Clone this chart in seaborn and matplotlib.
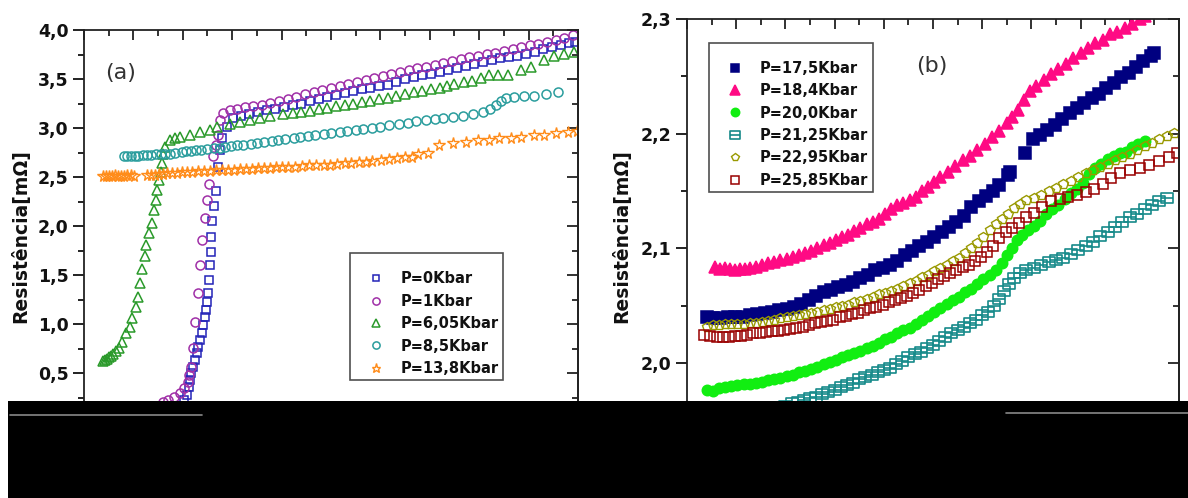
import matplotlib
matplotlib.use("Agg")
import matplotlib.pyplot as plt
import seaborn as sns
from matplotlib.ticker import MultipleLocator, FuncFormatter
from matplotlib.path import Path
from matplotlib.patches import Rectangle
from matplotlib.lines import Line2D

# ---- panel (a): resistance vs temperature, low pressures ----
T_P0 = [36, 38, 40, 40.6, 41.8, 42.6, 43.0, 43.4, 44.2, 45.0, 45.8, 46.2, 47.1, 47.9, 48.3, 49.1, 49.5, 49.9,
        50.3, 50.7, 51.1, 51.3, 51.5, 52.0, 52.7, 53.5, 54.4, 55.2, 56.0, 58.0, 60.4, 63.5, 67, 70.5, 74, 77.5,
        81, 84.5, 88, 91.5, 95, 98.5, 102, 105.5, 109, 112.5, 116, 119.5, 123, 126.5, 130, 133.5, 137, 140.5,
        144, 147.5, 151, 154.5, 158, 161.5, 165, 168.5, 172, 175.5, 179, 182.5, 186, 189.5, 193, 196.5, 199]
R_P0 = [0.05, 0.09, 0.16, 0.22, 0.28, 0.36, 0.43, 0.50, 0.56, 0.63, 0.70, 0.77, 0.84, 0.91, 0.99, 1.07, 1.14, 1.22,
        1.32, 1.45, 1.60, 1.73, 1.89, 2.05, 2.20, 2.36, 2.60, 2.78, 2.90, 3.01, 3.10, 3.12, 3.14, 3.16, 3.18, 3.19,
        3.21, 3.23, 3.25, 3.28, 3.30, 3.32, 3.34, 3.36, 3.38, 3.40, 3.41, 3.43, 3.44, 3.47, 3.50, 3.52, 3.54, 3.55,
        3.57, 3.59, 3.61, 3.63, 3.65, 3.67, 3.69, 3.71, 3.72, 3.74, 3.76, 3.78, 3.81, 3.83, 3.85, 3.87, 3.88]

T_P1 = [26, 29, 32.0, 34.1, 36.5, 38.9, 40.6, 42.2, 42.6, 43.4, 44.2, 45.0, 46.2, 47.1, 47.9, 49.1, 49.9, 50.7,
        52.3, 53.5, 54.4, 55.2, 56.4, 59.2, 62, 65, 68.5, 72, 75.5, 79, 82.5, 86, 89.5, 93, 96.5, 100, 103.5, 107,
        110.5, 114, 117.5, 121, 124.5, 128, 131.5, 135, 138.5, 142, 145.5, 149, 152.5, 156, 159.5, 163, 166.5, 170,
        173.5, 177, 180.5, 184, 187.5, 191, 194.5, 198]
R_P1 = [0.12, 0.16, 0.20, 0.22, 0.26, 0.30, 0.35, 0.41, 0.48, 0.56, 0.76, 1.02, 1.32, 1.60, 1.86, 2.08, 2.27, 2.43,
        2.71, 2.83, 2.93, 3.08, 3.15, 3.18, 3.19, 3.21, 3.22, 3.24, 3.26, 3.28, 3.30, 3.32, 3.35, 3.37, 3.39, 3.41,
        3.43, 3.45, 3.47, 3.49, 3.51, 3.53, 3.55, 3.57, 3.59, 3.61, 3.62, 3.64, 3.66, 3.68, 3.70, 3.72, 3.74, 3.76,
        3.77, 3.79, 3.81, 3.83, 3.85, 3.86, 3.88, 3.90, 3.92, 3.95]

T_P605 = [7.7, 8.5, 9.3, 10.1, 11.0, 11.8, 13.0, 14.2, 15.4, 17.0, 18.7, 19.5, 21.1, 21.9, 22.7, 23.5, 24.7, 25.2,
          26.4, 27.6, 28.4, 29.2, 29.6, 30.4, 31.2, 31.6, 32.0, 32.9, 34.9, 36.9, 38.9, 43.0, 47.1, 51.1, 54.0, 59.2,
          63.3, 67.3, 71.4, 75.5, 80.7, 84.5, 88, 91.5, 95, 98.5, 102, 105.5, 109, 112.5, 116, 119.5, 123, 126.5,
          130, 133.5, 137, 140.5, 144, 147, 150, 154, 157, 160.6, 164, 167.5, 171.6, 176.9, 180.9, 186.2, 190.3,
          194.3, 198.4]
R_P605 = [0.62, 0.63, 0.64, 0.66, 0.67, 0.69, 0.72, 0.76, 0.82, 0.91, 0.97, 1.06, 1.17, 1.28, 1.42, 1.56, 1.69, 1.81,
          1.93, 2.03, 2.16, 2.27, 2.37, 2.47, 2.55, 2.64, 2.74, 2.81, 2.88, 2.90, 2.91, 2.93, 2.96, 2.98, 3.01, 3.04,
          3.06, 3.08, 3.10, 3.12, 3.14, 3.15, 3.16, 3.17, 3.19, 3.20, 3.22, 3.23, 3.25, 3.27, 3.28, 3.30, 3.31, 3.33,
          3.35, 3.37, 3.38, 3.40, 3.41, 3.43, 3.45, 3.47, 3.48, 3.51, 3.54, 3.54, 3.54, 3.59, 3.62, 3.69, 3.74,
          3.76, 3.78]

T_P85 = [16, 17.5, 19, 20.5, 22, 24, 25.5, 27, 29, 31, 33, 35, 37, 39.5, 41.5, 43.5, 45.5, 47.5, 50, 52.5, 55, 57,
         59.5, 62, 64.5, 67.5, 70, 73, 76, 78.5, 81.5, 85, 87.5, 90.5, 93.5, 97, 100, 103.5, 106.5, 110, 113, 116.5,
         120, 123.5, 127.5, 131, 134.5, 138.5, 142, 145.5, 149.5, 153.5, 157.5, 161.5, 164.5, 167, 169, 171, 174,
         178, 182, 187, 192]
R_P85 = [2.71, 2.71, 2.71, 2.71, 2.71, 2.72, 2.72, 2.72, 2.73, 2.73, 2.74, 2.74, 2.75, 2.76, 2.77, 2.77, 2.78, 2.78,
         2.79, 2.80, 2.80, 2.81, 2.82, 2.83, 2.83, 2.84, 2.85, 2.86, 2.87, 2.88, 2.89, 2.90, 2.91, 2.92, 2.93, 2.94,
         2.95, 2.96, 2.97, 2.98, 2.99, 3.00, 3.01, 3.03, 3.04, 3.05, 3.07, 3.08, 3.09, 3.10, 3.11, 3.12, 3.14, 3.16,
         3.19, 3.24, 3.28, 3.31, 3.32, 3.33, 3.33, 3.35, 3.37]

T_P138 = [7.7, 8.9, 10.1, 11.4, 12.6, 13.8, 15.0, 16.2, 17.4, 19.1, 20.3, 25.6, 27.2, 28.8, 30.4, 32.0, 33.7, 35.7,
          37.7, 39.8, 41.8, 43.8, 46.2, 48.7, 51.1, 53.5, 56.0, 58.4, 60.8, 63.3, 65.7, 68.2, 70.6, 73.0, 75.5, 77.9,
          80.3, 82.8, 85.6, 88.4, 91.3, 94.1, 97.0, 99.8, 102.6, 105.5, 108.3, 111.2, 114.0, 116.8, 120.1, 123.3,
          126.6, 129.8, 132.7, 135.1, 139.1, 143.6, 149.3, 154.6, 159.4, 163.9, 168.0, 172.8, 176.9, 182.2, 186.2,
          191.1, 195.9, 199.5]
R_P138 = [2.51, 2.51, 2.51, 2.51, 2.52, 2.51, 2.51, 2.51, 2.52, 2.52, 2.51, 2.52, 2.52, 2.52, 2.53, 2.53, 2.54, 2.54,
          2.54, 2.55, 2.55, 2.55, 2.56, 2.56, 2.56, 2.57, 2.57, 2.57, 2.57, 2.58, 2.58, 2.58, 2.59, 2.59, 2.59, 2.60,
          2.60, 2.60, 2.60, 2.61, 2.62, 2.62, 2.62, 2.62, 2.63, 2.64, 2.64, 2.65, 2.65, 2.66, 2.67, 2.68, 2.69, 2.70,
          2.70, 2.74, 2.75, 2.83, 2.85, 2.86, 2.88, 2.88, 2.90, 2.90, 2.91, 2.93, 2.93, 2.95, 2.96, 2.97]

# ---- panel (b): higher pressures ----
T_P175 = [8, 10.5, 13.5, 16.5, 19.5, 22.5, 25.5, 28.5, 31.5, 34.5, 37.5, 40.5, 43.5, 46.5, 49.5, 52.5, 55.5, 58.5,
          61.5, 64.5, 67.5, 70.5, 73.5, 76.5, 79.5, 82.5, 85.5, 88.5, 91.5, 94.5, 97.5, 100.5, 103.5, 106.5, 109.5,
          112.5, 115.5, 118.5, 121.5, 124.5, 127, 130.5, 131.5, 137.5, 140.5, 143.5, 146.5, 149.5, 152.5, 155.5,
          158.5, 161.5, 164.5, 167.5, 170.5, 173.5, 176.5, 179.5, 182.5, 185.5, 188.5, 190]
R_P175 = [2.040, 2.039, 2.039, 2.040, 2.040, 2.040, 2.042, 2.043, 2.044, 2.045, 2.046, 2.047, 2.049, 2.052, 2.055,
          2.059, 2.062, 2.064, 2.066, 2.068, 2.071, 2.074, 2.077, 2.081, 2.083, 2.086, 2.089, 2.094, 2.098, 2.102,
          2.106, 2.110, 2.114, 2.119, 2.123, 2.128, 2.136, 2.141, 2.146, 2.150, 2.155, 2.164, 2.167, 2.183, 2.195,
          2.199, 2.203, 2.208, 2.213, 2.218, 2.222, 2.227, 2.231, 2.235, 2.240, 2.244, 2.249, 2.253, 2.258, 2.263,
          2.268, 2.270]

T_P184 = [11.5, 13.5, 15.5, 17.5, 19.5, 21.5, 23.5, 25.5, 28, 30.5, 33, 35.5, 38, 40.5, 43, 45.5, 48, 50.5, 53, 55.5,
          58, 60.5, 63, 65.5, 68, 70.5, 73, 75.5, 78, 80.5, 83, 85.5, 88, 90.5, 93, 95.5, 98, 100.5, 103, 106, 109,
          112, 115, 118, 121, 124, 127, 130, 132, 134.5, 137, 139.5, 142, 145, 148, 151, 154, 157, 160, 163, 166,
          169, 172, 175, 178, 181, 184, 186]
R_P184 = [2.084, 2.082, 2.083, 2.082, 2.081, 2.082, 2.082, 2.083, 2.084, 2.086, 2.087, 2.088, 2.090, 2.091, 2.093,
          2.094, 2.096, 2.098, 2.100, 2.103, 2.105, 2.107, 2.110, 2.112, 2.115, 2.118, 2.121, 2.123, 2.126, 2.130,
          2.134, 2.138, 2.140, 2.142, 2.145, 2.150, 2.154, 2.158, 2.162, 2.167, 2.172, 2.177, 2.181, 2.186, 2.191,
          2.197, 2.202, 2.209, 2.215, 2.221, 2.229, 2.237, 2.242, 2.247, 2.252, 2.256, 2.261, 2.266, 2.270, 2.275,
          2.279, 2.282, 2.287, 2.289, 2.292, 2.296, 2.300, 2.303]

T_P200 = [8, 10.5, 13, 15.5, 18, 20.5, 23, 25.5, 28, 30.5, 33, 35.5, 38, 40.5, 43, 45.5, 48, 50.5, 53, 55.5, 58, 60.5,
          63, 65.5, 68, 70.5, 73, 75.5, 78, 80.5, 83, 85.5, 88, 90.5, 93, 95.5, 98, 100.5, 103, 105.5, 108, 110.5,
          113, 115.5, 118, 120.5, 123, 125.5, 128, 130, 132, 134, 136, 138.5, 141, 143.5, 146, 148.5, 151, 153.5,
          156, 158.5, 161, 163.5, 166, 168.5, 171, 173.5, 176, 178.5, 181, 183.5, 186]
R_P200 = [1.977, 1.976, 1.978, 1.979, 1.980, 1.981, 1.982, 1.982, 1.983, 1.984, 1.985, 1.986, 1.987, 1.989, 1.990,
          1.992, 1.993, 1.995, 1.997, 1.999, 2.001, 2.003, 2.005, 2.007, 2.009, 2.011, 2.013, 2.015, 2.018, 2.021,
          2.023, 2.026, 2.029, 2.031, 2.034, 2.038, 2.041, 2.045, 2.048, 2.052, 2.055, 2.058, 2.062, 2.065, 2.069,
          2.073, 2.077, 2.081, 2.087, 2.094, 2.100, 2.107, 2.112, 2.116, 2.120, 2.124, 2.130, 2.134, 2.138, 2.143,
          2.148, 2.152, 2.157, 2.165, 2.170, 2.174, 2.178, 2.181, 2.183, 2.184, 2.188, 2.191, 2.194]

T_P2125 = [40, 42.5, 45, 47.5, 50, 52.5, 55, 57.5, 60, 62.5, 65, 67.5, 70, 72.5, 75, 77.5, 80, 82.5, 85, 87.5, 90,
           92.5, 95, 97.5, 100, 102.5, 105, 107.5, 110, 112.5, 115, 117.5, 120, 122.5, 125, 127, 129, 131, 133,
           135.5, 138, 141, 144, 147, 150, 153, 156, 159, 162, 165, 168, 171, 174, 177, 180, 183, 186, 189, 192, 195]
R_P2125 = [1.963, 1.965, 1.966, 1.968, 1.970, 1.971, 1.973, 1.975, 1.977, 1.979, 1.981, 1.983, 1.986, 1.988, 1.990,
           1.992, 1.994, 1.996, 1.999, 2.002, 2.005, 2.008, 2.010, 2.013, 2.016, 2.019, 2.023, 2.026, 2.029, 2.032,
           2.035, 2.038, 2.042, 2.045, 2.050, 2.056, 2.063, 2.069, 2.074, 2.079, 2.081, 2.083, 2.086, 2.088, 2.090,
           2.092, 2.095, 2.099, 2.102, 2.106, 2.111, 2.114, 2.119, 2.123, 2.127, 2.130, 2.134, 2.138, 2.141, 2.144]

T_P2295 = [8, 10.5, 13, 15.5, 18, 20.5, 23, 25.5, 28, 30.5, 33, 35.5, 38, 40.5, 43, 45.5, 48, 50.5, 53, 55.5, 58,
           60.5, 63, 65.5, 68, 70.5, 73, 75.5, 78, 80.5, 83, 85.5, 88, 90.5, 93, 95.5, 98, 100.5, 103, 105.5, 108,
           110.5, 113, 115.5, 118, 120.5, 123, 125.5, 128, 130.5, 133, 135.5, 138, 141, 144, 147, 150, 153, 156,
           159, 162, 165, 168, 171, 174, 177, 180, 183, 186, 189, 192, 195, 198]
R_P2295 = [2.032, 2.033, 2.033, 2.034, 2.034, 2.034, 2.034, 2.035, 2.035, 2.036, 2.037, 2.038, 2.039, 2.040, 2.041,
           2.042, 2.043, 2.044, 2.045, 2.046, 2.047, 2.049, 2.050, 2.051, 2.053, 2.054, 2.056, 2.058, 2.060, 2.061,
           2.063, 2.065, 2.067, 2.070, 2.072, 2.075, 2.077, 2.080, 2.083, 2.086, 2.089, 2.092, 2.096, 2.100, 2.105,
           2.110, 2.116, 2.121, 2.126, 2.130, 2.135, 2.139, 2.142, 2.144, 2.147, 2.150, 2.153, 2.156, 2.159, 2.162,
           2.166, 2.168, 2.171, 2.174, 2.177, 2.180, 2.182, 2.186, 2.189, 2.192, 2.195, 2.198, 2.201]

T_P2585 = [7, 9.5, 12, 14.5, 17, 19.5, 22, 24.5, 27, 29.5, 32, 34.5, 37, 39.5, 42, 44.5, 47, 49.5, 52, 54.5, 57,
           59.5, 62, 64.5, 67, 69.5, 72, 74.5, 77, 79.5, 82, 84.5, 87, 89.5, 92, 94.5, 97, 99.5, 102, 104.5, 107,
           109.5, 112, 114.5, 117, 119.5, 122, 124.5, 127, 129.5, 132, 135, 138, 141, 144.5, 148, 151.5, 155, 158.5,
           162, 165.5, 169, 172.5, 176, 180, 184, 188, 192, 196, 199]
R_P2585 = [2.025, 2.024, 2.023, 2.023, 2.023, 2.024, 2.024, 2.025, 2.026, 2.026, 2.027, 2.028, 2.028, 2.029, 2.030,
           2.031, 2.032, 2.033, 2.035, 2.036, 2.037, 2.038, 2.040, 2.041, 2.043, 2.044, 2.046, 2.048, 2.049, 2.051,
           2.053, 2.055, 2.057, 2.059, 2.061, 2.064, 2.067, 2.070, 2.073, 2.076, 2.079, 2.081, 2.084, 2.086, 2.089,
           2.093, 2.097, 2.102, 2.109, 2.114, 2.118, 2.122, 2.127, 2.131, 2.136, 2.141, 2.143, 2.145, 2.147, 2.149,
           2.152, 2.156, 2.161, 2.166, 2.168, 2.170, 2.173, 2.176, 2.180, 2.183]

# square with a bar through the middle (P=21,25Kbar marker)
BAR_SQUARE = Path([(-1, -0.8), (1, -0.8), (1, 0.8), (-1, 0.8), (-1, -0.8), (-1, 0), (1, 0)],
                  [Path.MOVETO, Path.LINETO, Path.LINETO, Path.LINETO, Path.CLOSEPOLY, Path.MOVETO, Path.LINETO])

sns.set_theme(style="white")
plt.rcParams["font.family"] = ["DejaVu Sans"]
plt.rcParams["font.weight"] = "bold"
plt.rcParams["axes.labelweight"] = "bold"


def draw(ax, t, r, label, marker, color, filled, ms, mew=1.1):
    sns.lineplot(x=t, y=r, ax=ax, label=label, sort=False, estimator=None,
                 color=color, linestyle="none", marker=marker, markersize=ms,
                 markerfacecolor=color if filled else "none",
                 markeredgecolor=color, markeredgewidth=mew)


def comma(v, pos):
    return f"{v:.1f}".replace(".", ",")


def style_axes(ax, ylim, ymaj, ymin):
    ax.set_xlim(0, 200)
    ax.set_ylim(*ylim)
    ax.set_xlabel("")
    ax.xaxis.set_major_locator(MultipleLocator(20))
    ax.xaxis.set_minor_locator(MultipleLocator(10))
    ax.yaxis.set_major_locator(MultipleLocator(ymaj))
    ax.yaxis.set_minor_locator(MultipleLocator(ymin))
    ax.yaxis.set_major_formatter(FuncFormatter(comma))
    ax.tick_params(axis="y", which="both", left=True, right=False, direction="out",
                   labelsize=12.5, pad=3, colors="#111111", width=1.3)
    ax.tick_params(axis="y", which="major", length=8)
    ax.tick_params(axis="y", which="minor", length=4)
    ax.tick_params(axis="x", which="both", bottom=True, top=True, direction="in",
                   labelbottom=False, color="#222222", width=1.3)
    ax.tick_params(axis="x", which="major", length=7)
    ax.tick_params(axis="x", which="minor", length=4)
    for sp in ax.spines.values():
        sp.set_color("#222222")
        sp.set_linewidth(1.3)
    sec = ax.secondary_yaxis("right")
    sec.yaxis.set_major_locator(MultipleLocator(ymaj))
    sec.yaxis.set_minor_locator(MultipleLocator(ymin))
    sec.tick_params(which="both", direction="in", labelright=False, color="#222222", width=1.3)
    sec.tick_params(which="major", length=8)
    sec.tick_params(which="minor", length=4)
    sec.spines["right"].set_linewidth(1.3)
    sec.spines["right"].set_color("#222222")


def make_legend(ax, anchor):
    handles, labels = ax.get_legend_handles_labels()
    leg = ax.legend(handles, labels, loc="upper left", bbox_to_anchor=anchor, borderaxespad=0,
                    frameon=True, fancybox=False, fontsize=10.5, title=" ",
                    title_fontproperties={"size": 5}, borderpad=0.3, labelspacing=0.51,
                    handlelength=3.0, handletextpad=0.2, markerscale=0.8)
    leg.get_frame().set_edgecolor("#222222")
    leg.get_frame().set_linewidth(1.2)
    for txt in leg.get_texts():
        txt.set_color("#111111")


fig = plt.figure(figsize=(11.88, 4.98), dpi=100)
ax_a = fig.add_axes([0.0707, 0.1526, 0.4158, 0.7871])
ax_b = fig.add_axes([0.5783, 0.0402, 0.4141, 0.9217])

# panel (a)
draw(ax_a, T_P0, R_P0, "P=0Kbar", "s", "#2323b8", False, 5.5)
draw(ax_a, T_P1, R_P1, "P=1Kbar", "o", "#a030a8", False, 6.5)
draw(ax_a, T_P605, R_P605, "P=6,05Kbar", "^", "#2a9a2a", False, 6.5)
draw(ax_a, T_P85, R_P85, "P=8,5Kbar", "o", "#2a9d9d", False, 6.5)
draw(ax_a, T_P138, R_P138, "P=13,8Kbar", "*", "#ff8c1a", False, 8.5, 1.0)
style_axes(ax_a, (0, 4.0), 0.5, 0.25)
ax_a.set_ylabel("Resistência[mΩ]", fontsize=13.5, color="#111111")
ax_a.yaxis.set_label_coords(-0.109, 0.474)
ax_a.text(0.075, 0.89, "(a)", transform=ax_a.transAxes, ha="center", va="center",
          fontsize=16, fontweight="normal", color="#333333")
make_legend(ax_a, (0.538, 0.43))

# panel (b)
draw(ax_b, T_P175, R_P175, "P=17,5Kbar", "s", "#000080", True, 8)
draw(ax_b, T_P184, R_P184, "P=18,4Kbar", "^", "#ff0a84", True, 8.5)
draw(ax_b, T_P200, R_P200, "P=20,0Kbar", "o", "#11ee11", True, 7.5)
draw(ax_b, T_P2125, R_P2125, "P=21,25Kbar", BAR_SQUARE, "#168a8a", False, 8.5, 1.2)
draw(ax_b, T_P2295, R_P2295, "P=22,95Kbar", "p", "#999900", False, 7.5, 1.0)
draw(ax_b, T_P2585, R_P2585, "P=25,85Kbar", "s", "#990000", False, 7, 1.1)
style_axes(ax_b, (1.9, 2.3), 0.1, 0.05)
ax_b.set_ylabel("Resistência[mΩ]", fontsize=13.5, color="#111111")
ax_b.yaxis.set_label_coords(-0.114, 0.527)
ax_b.text(0.498, 0.897, "(b)", transform=ax_b.transAxes, ha="center", va="center",
          fontsize=16, fontweight="normal", color="#333333")
make_legend(ax_b, (0.0447, 0.948))

# dark band over the lower part of the scan
fig.add_artist(Rectangle((8 / 1188, 0), 1 - 8 / 1188, 97 / 498, transform=fig.transFigure,
                         facecolor="black", edgecolor="none", zorder=10))
fig.add_artist(Line2D([10 / 1188, 202 / 1188], [83 / 498, 83 / 498], transform=fig.transFigure,
                      color="#888888", lw=1.2, zorder=11))
fig.add_artist(Line2D([1006 / 1188, 1.0], [85 / 498, 85 / 498], transform=fig.transFigure,
                      color="#888888", lw=1.2, zorder=11))

fig.savefig("out.png", dpi=100)
